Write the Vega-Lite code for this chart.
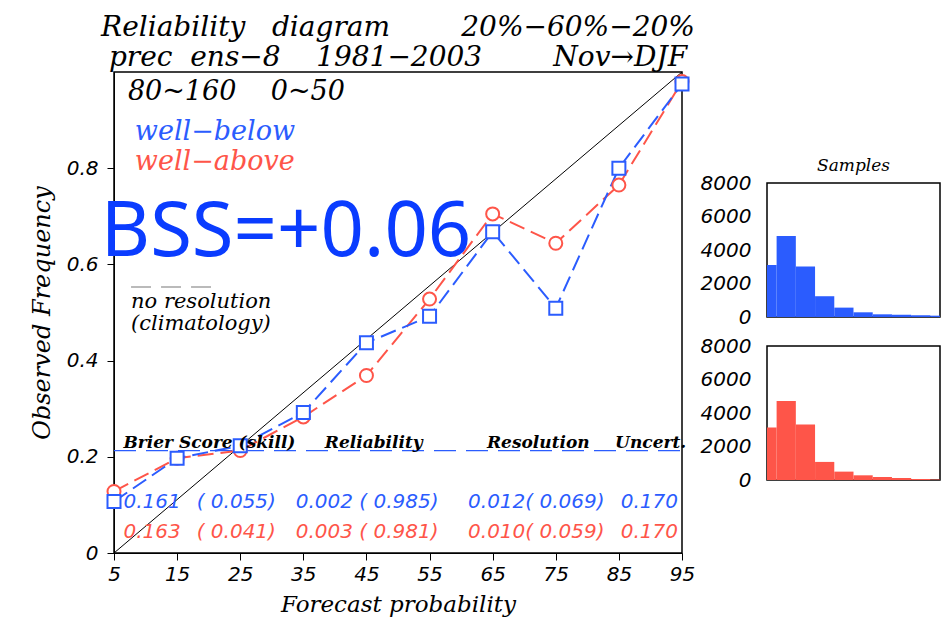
{
  "$schema": "https://vega.github.io/schema/vega-lite/v6.json",
  "background": "white",
  "padding": {"left": 29, "top": 13, "right": 0, "bottom": 0},
  "bounds": "flush",
  "spacing": 85,
  "config": {
    "view": {"stroke": "black", "strokeWidth": 1.5},
    "axis": {
      "grid": false,
      "labelFont": "DejaVu Sans",
      "labelFontStyle": "italic",
      "labelColor": "black",
      "labelFontSize": 20,
      "domainColor": "black",
      "tickColor": "black",
      "titleFont": "DejaVu Serif",
      "titleFontStyle": "italic",
      "titleFontWeight": "normal",
      "titleColor": "black",
      "titleFontSize": 24
    }
  },
  "datasets": {
    "diag": [{"x": 5, "y": 0}, {"x": 95, "y": 1}],
    "clim": [{"x": 5, "x2": 95, "y": 0.213}],
    "legdash": [{"x": 7.7, "x2": 20.7, "y": 0.553}],
    "rel": [
      {"series": "well-above", "x": 5, "y": 0.128},
      {"series": "well-above", "x": 15, "y": 0.197},
      {"series": "well-above", "x": 25, "y": 0.213},
      {"series": "well-above", "x": 35, "y": 0.283},
      {"series": "well-above", "x": 45, "y": 0.369},
      {"series": "well-above", "x": 55, "y": 0.528},
      {"series": "well-above", "x": 65, "y": 0.705},
      {"series": "well-above", "x": 75, "y": 0.644},
      {"series": "well-above", "x": 85, "y": 0.765},
      {"series": "well-above", "x": 95, "y": 0.98},
      {"series": "well-below", "x": 5, "y": 0.107},
      {"series": "well-below", "x": 15, "y": 0.197},
      {"series": "well-below", "x": 25, "y": 0.223},
      {"series": "well-below", "x": 35, "y": 0.292},
      {"series": "well-below", "x": 45, "y": 0.437},
      {"series": "well-below", "x": 55, "y": 0.492},
      {"series": "well-below", "x": 65, "y": 0.668},
      {"series": "well-below", "x": 75, "y": 0.509},
      {"series": "well-below", "x": 85, "y": 0.8},
      {"series": "well-below", "x": 95, "y": 0.975}
    ],
    "labels": [
      {"kind": "region", "series": "none", "x": 7.2, "y": 0.958, "label": "80~160\u00a0\u00a0\u00a0\u00a00~50"},
      {"kind": "legend", "series": "well-below", "x": 8.3, "y": 0.875, "label": "well−below"},
      {"kind": "legend", "series": "well-above", "x": 8.3, "y": 0.813, "label": "well−above"},
      {"kind": "bss", "series": "well-below", "x": 2.9, "y": 0.618, "label": "BSS=+0.06"},
      {"kind": "clim", "series": "none", "x": 7.7, "y": 0.522, "label": "no resolution"},
      {"kind": "clim", "series": "none", "x": 7.7, "y": 0.476, "label": "(climatology)"},
      {"kind": "head", "series": "none", "x": 6.5, "y": 0.229, "label": "Brier Score (skill)"},
      {"kind": "head", "series": "none", "x": 38.4, "y": 0.229, "label": "Reliability"},
      {"kind": "head", "series": "none", "x": 64.1, "y": 0.229, "label": "Resolution"},
      {"kind": "head", "series": "none", "x": 84.4, "y": 0.229, "label": "Uncert."},
      {"kind": "num", "series": "well-below", "x": 6.5, "y": 0.106, "label": "0.161"},
      {"kind": "num", "series": "well-below", "x": 18.1, "y": 0.106, "label": "( 0.055)"},
      {"kind": "num", "series": "well-below", "x": 33.8, "y": 0.106, "label": "0.002 ( 0.985)"},
      {"kind": "num", "series": "well-below", "x": 61.1, "y": 0.106, "label": "0.012( 0.069)"},
      {"kind": "num", "series": "well-below", "x": 85.3, "y": 0.106, "label": "0.170"},
      {"kind": "num", "series": "well-above", "x": 6.5, "y": 0.044, "label": "0.163"},
      {"kind": "num", "series": "well-above", "x": 18.1, "y": 0.044, "label": "( 0.041)"},
      {"kind": "num", "series": "well-above", "x": 33.8, "y": 0.044, "label": "0.003 ( 0.981)"},
      {"kind": "num", "series": "well-above", "x": 61.1, "y": 0.044, "label": "0.010( 0.059)"},
      {"kind": "num", "series": "well-above", "x": 85.3, "y": 0.044, "label": "0.170"}
    ],
    "hist": [
      {"series": "well-below", "bin_start": 0, "bin_end": 10, "count": 3110},
      {"series": "well-below", "bin_start": 10, "bin_end": 20, "count": 4830},
      {"series": "well-below", "bin_start": 20, "bin_end": 30, "count": 3010},
      {"series": "well-below", "bin_start": 30, "bin_end": 40, "count": 1240},
      {"series": "well-below", "bin_start": 40, "bin_end": 50, "count": 560},
      {"series": "well-below", "bin_start": 50, "bin_end": 60, "count": 280},
      {"series": "well-below", "bin_start": 60, "bin_end": 70, "count": 160},
      {"series": "well-below", "bin_start": 70, "bin_end": 80, "count": 130},
      {"series": "well-below", "bin_start": 80, "bin_end": 90, "count": 100},
      {"series": "well-below", "bin_start": 90, "bin_end": 100, "count": 80},
      {"series": "well-above", "bin_start": 0, "bin_end": 10, "count": 3130},
      {"series": "well-above", "bin_start": 10, "bin_end": 20, "count": 4710},
      {"series": "well-above", "bin_start": 20, "bin_end": 30, "count": 3310},
      {"series": "well-above", "bin_start": 30, "bin_end": 40, "count": 1080},
      {"series": "well-above", "bin_start": 40, "bin_end": 50, "count": 500},
      {"series": "well-above", "bin_start": 50, "bin_end": 60, "count": 280},
      {"series": "well-above", "bin_start": 60, "bin_end": 70, "count": 180},
      {"series": "well-above", "bin_start": 70, "bin_end": 80, "count": 120},
      {"series": "well-above", "bin_start": 80, "bin_end": 90, "count": 60},
      {"series": "well-above", "bin_start": 90, "bin_end": 100, "count": 30}
    ]
  },
  "hconcat": [
    {
      "width": 568,
      "height": 481,
      "title": {
        "text": "Reliability\u00a0\u00a0\u00a0diagram\u00a0\u00a0\u00a0\u00a0\u00a0\u00a0\u00a0\u00a020%−60%−20%",
        "subtitle": "prec\u00a0\u00a0ens−8\u00a0\u00a0\u00a0\u00a01981−2003\u00a0\u00a0\u00a0\u00a0\u00a0\u00a0\u00a0\u00a0Nov→DJF",
        "font": "DejaVu Serif",
        "fontStyle": "italic",
        "fontWeight": "normal",
        "fontSize": 28,
        "color": "black",
        "subtitleFont": "DejaVu Serif",
        "subtitleFontStyle": "italic",
        "subtitleFontSize": 28,
        "subtitleColor": "black",
        "subtitlePadding": 2,
        "anchor": "middle",
        "offset": -2
      },
      "encoding": {
        "x": {
          "field": "x",
          "type": "quantitative",
          "scale": {"domain": [5, 95], "nice": false, "zero": false},
          "axis": {
            "title": "Forecast probability",
            "titleFontSize": 23,
            "values": [5, 15, 25, 35, 45, 55, 65, 75, 85, 95],
            "tickSize": 7,
            "labelPadding": 4,
            "titlePadding": 9,
            "labelFlush": false
          }
        },
        "y": {
          "field": "y",
          "type": "quantitative",
          "scale": {"domain": [0, 1], "nice": false},
          "axis": {
            "title": "Observed Frequency",
            "values": [0, 0.2, 0.4, 0.6, 0.8],
            "labelExpr": "datum.value == 0 ? '0' : format(datum.value, '.1f')",
            "tickSize": 7,
            "labelPadding": 9,
            "titlePadding": 12
          }
        }
      },
      "layer": [
        {
          "data": {"name": "diag"},
          "mark": {"type": "line", "color": "black", "strokeWidth": 1}
        },
        {
          "data": {"name": "clim"},
          "mark": {"type": "rule", "color": "#2b5cfe", "strokeWidth": 1.2, "strokeDash": [22, 10]},
          "encoding": {"x2": {"field": "x2"}}
        },
        {
          "data": {"name": "legdash"},
          "mark": {"type": "rule", "color": "#777777", "strokeWidth": 1.2, "strokeDash": [20, 10]},
          "encoding": {"x2": {"field": "x2"}}
        },
        {
          "data": {"name": "rel"},
          "mark": {"type": "line", "strokeWidth": 2, "strokeDash": [16, 7], "clip": true},
          "encoding": {
            "color": {
              "field": "series",
              "type": "nominal",
              "scale": {"domain": ["well-below", "well-above", "none"], "range": ["#2b5cfe", "#fe5549", "black"]},
              "legend": null
            }
          }
        },
        {
          "data": {"name": "rel"},
          "mark": {"type": "point", "filled": true, "fill": "white", "fillOpacity": 1, "opacity": 1, "strokeWidth": 2, "size": 169},
          "encoding": {
            "stroke": {
              "field": "series",
              "type": "nominal",
              "scale": {"domain": ["well-below", "well-above"], "range": ["#2b5cfe", "#fe5549"]},
              "legend": null
            },
            "shape": {
              "field": "series",
              "type": "nominal",
              "scale": {"domain": ["well-below", "well-above"], "range": ["square", "circle"]},
              "legend": null
            }
          }
        },
        {
          "data": {"name": "labels"},
          "transform": [{"filter": "datum.kind == 'region'"}],
          "mark": {"type": "text", "align": "left", "baseline": "middle", "font": "DejaVu Serif", "fontStyle": "italic", "fontSize": 27, "color": "black"},
          "encoding": {"text": {"field": "label"}}
        },
        {
          "data": {"name": "labels"},
          "transform": [{"filter": "datum.kind == 'legend'"}],
          "mark": {"type": "text", "align": "left", "baseline": "middle", "font": "DejaVu Serif", "fontStyle": "italic", "fontSize": 27},
          "encoding": {"text": {"field": "label"}, "color": {"field": "series", "type": "nominal", "legend": null}}
        },
        {
          "data": {"name": "labels"},
          "transform": [{"filter": "datum.kind == 'bss'"}],
          "mark": {"type": "text", "align": "left", "baseline": "alphabetic", "font": "Noto Sans", "fontSize": 76, "color": "#0a3cff"},
          "encoding": {"text": {"field": "label"}}
        },
        {
          "data": {"name": "labels"},
          "transform": [{"filter": "datum.kind == 'clim'"}],
          "mark": {"type": "text", "align": "left", "baseline": "middle", "font": "DejaVu Serif", "fontStyle": "italic", "fontSize": 21, "color": "black"},
          "encoding": {"text": {"field": "label"}}
        },
        {
          "data": {"name": "labels"},
          "transform": [{"filter": "datum.kind == 'head'"}],
          "mark": {"type": "text", "align": "left", "baseline": "middle", "font": "DejaVu Serif", "fontStyle": "italic", "fontWeight": "bold", "fontSize": 17, "color": "black"},
          "encoding": {"text": {"field": "label"}}
        },
        {
          "data": {"name": "labels"},
          "transform": [{"filter": "datum.kind == 'num'"}],
          "mark": {"type": "text", "align": "left", "baseline": "middle", "font": "DejaVu Sans", "fontStyle": "italic", "fontSize": 20},
          "encoding": {"text": {"field": "label"}, "color": {"field": "series", "type": "nominal", "legend": null}}
        }
      ]
    },
    {
      "vconcat": [
        {
          "width": 173,
          "height": 82,
          "view": {"stroke": null},
          "data": {"values": [{"a": 1}]},
          "mark": {"type": "rule", "opacity": 0},
          "encoding": {}
        },
        {
          "width": 173,
          "height": 134,
          "title": {"text": "Samples", "font": "DejaVu Serif", "fontStyle": "italic", "fontWeight": "normal", "fontSize": 17, "color": "black", "anchor": "middle", "offset": -2},
          "data": {"name": "hist"},
          "transform": [{"filter": "datum.series == 'well-below'"}],
          "mark": {"type": "bar", "clip": true, "color": "#2b5cfe"},
          "encoding": {
            "x": {"field": "bin_start", "type": "quantitative", "scale": {"domain": [5, 95], "nice": false, "zero": false}, "axis": null},
            "x2": {"field": "bin_end"},
            "y": {"field": "count", "type": "quantitative", "scale": {"domain": [0, 8000], "nice": false}, "axis": {"title": null, "values": [0, 2000, 4000, 6000, 8000], "format": "d", "ticks": false, "tickSize": 0, "domain": false, "labelPadding": 16, "labelFontSize": 20}},
            "y2": {"datum": 0}
          }
        },
        {
          "width": 173,
          "height": 134,
          "data": {"name": "hist"},
          "transform": [{"filter": "datum.series == 'well-above'"}],
          "mark": {"type": "bar", "clip": true, "color": "#fe5549"},
          "encoding": {
            "x": {"field": "bin_start", "type": "quantitative", "scale": {"domain": [5, 95], "nice": false, "zero": false}, "axis": null},
            "x2": {"field": "bin_end"},
            "y": {"field": "count", "type": "quantitative", "scale": {"domain": [0, 8000], "nice": false}, "axis": {"title": null, "values": [0, 2000, 4000, 6000, 8000], "format": "d", "ticks": false, "tickSize": 0, "domain": false, "labelPadding": 16, "labelFontSize": 20}},
            "y2": {"datum": 0}
          }
        }
      ],
      "spacing": 29,
      "bounds": "flush"
    }
  ]
}
